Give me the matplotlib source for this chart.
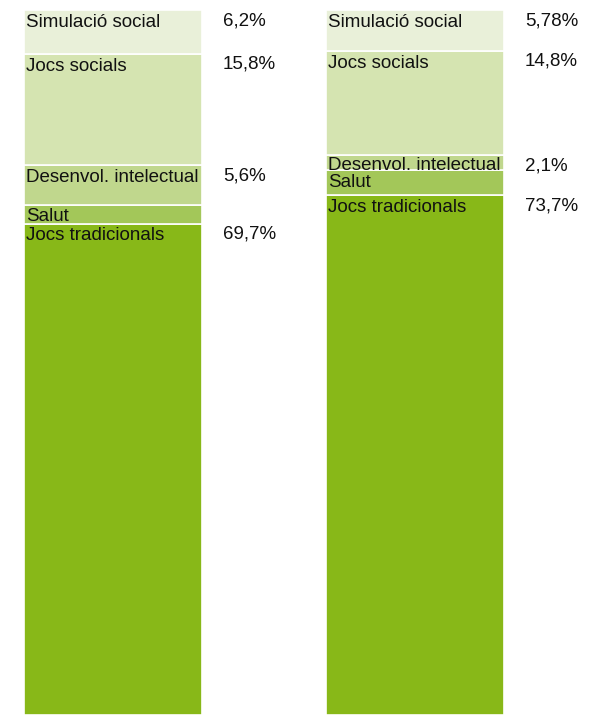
import numpy as np
import matplotlib
matplotlib.use('Agg')
import matplotlib.pyplot as plt

matplotlib.rc('font', family='Liberation Sans', size=13.5)

# categories, bottom to top of each bar
categories = ['Jocs tradicionals', 'Salut', 'Desenvol. intelectual',
              'Jocs socials', 'Simulació social']
left_vals = [69.7, 2.7, 5.6, 15.8, 6.2]
right_vals = [73.7, 3.62, 2.1, 14.8, 5.78]
left_labels = ['69,7%', '', '5,6%', '15,8%', '6,2%']
right_labels = ['73,7%', '', '2,1%', '14,8%', '5,78%']
colors = ['#88b818', '#a3c759', '#c0d78d', '#d5e4b1', '#e9f0d9']

fig = plt.figure(figsize=(5.97, 7.15), dpi=100)
ax = fig.add_axes([0, 0, 1, 1])

bars = [left_vals, right_vals]
labels = [left_labels, right_labels]
width = 0.589
for i, (vals, labs) in enumerate(zip(bars, labels)):
  bottom = 0
  for v, c, name, lab in zip(vals, colors, categories, labs):
    ax.bar(i, v, bottom=bottom, width=width, color=c,
           edgecolor='white', linewidth=1.2)
    top = bottom + v
    off = 0.55 if v > 2.5 else 0.2
    ax.text(i - width / 2 + 0.007, top - off, name, ha='left', va='top',
            fontsize=13.5, color='#111111', zorder=30)
    if lab:
      ax.text(i + width / 2 + 0.07, top - 0.3, lab, ha='left', va='top',
              fontsize=13.5, color='#111111', zorder=30)
    bottom = top

ax.set_xlim(-0.374, 1.603)
ax.set_ylim(0, 101.42)
ax.axis('off')

plt.savefig('out.png', dpi=100)
